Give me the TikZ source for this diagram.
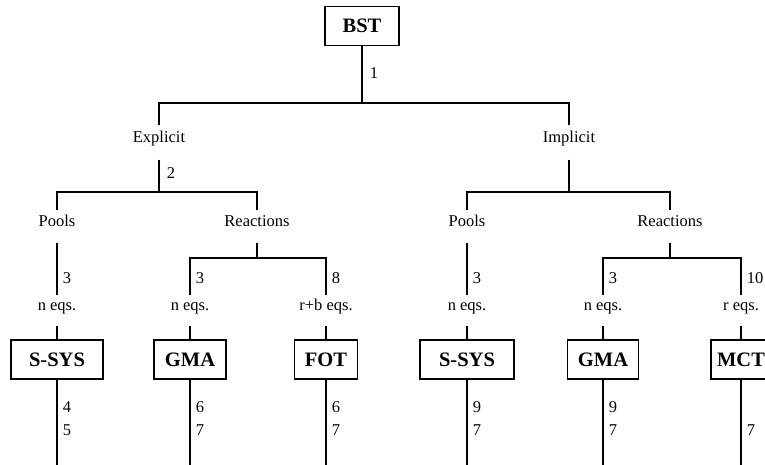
\documentclass[tikz,border=0pt]{standalone}
\usepackage{fontspec}
\setmainfont{Liberation Serif}
\begin{document}
\begin{tikzpicture}[x=1pt,y=-1pt,line width=1.5pt,
  box/.style={draw,inner sep=0pt,minimum height=39pt,font=\fontsize{20.5}{24}\selectfont\bfseries},
  lbl/.style={inner sep=0pt,anchor=base,font=\fontsize{16.5}{19}\selectfont,text height=17pt,text depth=16pt},
  plbl/.style={inner sep=0pt,anchor=base,font=\fontsize{16.5}{19}\selectfont,text height=15pt,text depth=16pt},
  eqlbl/.style={inner sep=0pt,anchor=base,font=\fontsize{16.5}{19}\selectfont,text height=14pt,text depth=15pt},
  num/.style={inner sep=0pt,anchor=west,font=\fontsize{16.5}{19}\selectfont}]
\clip (0,0) rectangle (765,465);
% top
\node[box,minimum width=74pt] (bst) at (362,26) {BST};
\coordinate (j1) at (362,103);
\node[lbl] (expl) at (159,143) {Explicit};
\node[lbl] (impl) at (569,143) {Implicit};
\draw (bst.south) -- (j1);
\draw (expl.north) |- (j1) -| (impl.north);
\node[num] at (369,73) {1};
% explicit
\coordinate (j2) at (159,192);
\node[plbl] (poolsA) at (57,226) {Pools};
\node[plbl] (reactA) at (257,226) {Reactions};
\draw (expl.south) -- (j2);
\draw (poolsA.north) |- (j2) -| (reactA.north);
\node[num] at (166,173) {2};
\coordinate (j3) at (257,258);
\node[eqlbl] (neqA1) at (57,310) {n eqs.};
\node[eqlbl] (neqA2) at (190,310) {n eqs.};
\node[eqlbl] (rbeq) at (326,310) {r+b eqs.};
\draw (poolsA.south) -- (neqA1.north);
\draw (reactA.south) -- (j3);
\draw (neqA2.north) |- (j3) -| (rbeq.north);
\node[num] at (62,278) {3};
\node[num] at (195,278) {3};
\node[num] at (331,278) {8};
\node[box,minimum width=92pt] (ssysA) at (57,359.5) {S-SYS};
\node[box,minimum width=72pt] (gmaA) at (190,359.5) {GMA};
\node[box,minimum width=63pt] (fot) at (326,359.5) {FOT};
\draw (neqA1.south) -- (ssysA.north);
\draw (neqA2.south) -- (gmaA.north);
\draw (rbeq.south) -- (fot.north);
\coordinate (eA1) at (57,470);
\coordinate (eA2) at (190,470);
\coordinate (eA3) at (326,470);
\draw (ssysA.south) -- (eA1);
\draw (gmaA.south) -- (eA2);
\draw (fot.south) -- (eA3);
\node[num] at (62,407) {4};
\node[num] at (62,430) {5};
\node[num] at (195,407) {6};
\node[num] at (195,430) {7};
\node[num] at (331,407) {6};
\node[num] at (331,430) {7};
% implicit
\coordinate (j4) at (569,192);
\node[plbl] (poolsB) at (467,226) {Pools};
\node[plbl] (reactB) at (670,226) {Reactions};
\draw (impl.south) -- (j4);
\draw (poolsB.north) |- (j4) -| (reactB.north);
\coordinate (j5) at (670,258);
\node[eqlbl] (neqB1) at (467,310) {n eqs.};
\node[eqlbl] (neqB2) at (603,310) {n eqs.};
\node[eqlbl] (req) at (741,310) {r eqs.};
\draw (poolsB.south) -- (neqB1.north);
\draw (reactB.south) -- (j5);
\draw (neqB2.north) |- (j5) -| (req.north);
\node[num] at (472,278) {3};
\node[num] at (608,278) {3};
\node[num] at (746,278) {10};
\node[box,minimum width=94pt] (ssysB) at (467,359.5) {S-SYS};
\node[box,minimum width=71pt] (gmaB) at (603,359.5) {GMA};
\node[box,minimum width=60pt] (mct) at (741,359.5) {MCT};
\draw (neqB1.south) -- (ssysB.north);
\draw (neqB2.south) -- (gmaB.north);
\draw (req.south) -- (mct.north);
\coordinate (eB1) at (467,470);
\coordinate (eB2) at (603,470);
\coordinate (eB3) at (741,470);
\draw (ssysB.south) -- (eB1);
\draw (gmaB.south) -- (eB2);
\draw (mct.south) -- (eB3);
\node[num] at (472,407) {9};
\node[num] at (472,430) {7};
\node[num] at (608,407) {9};
\node[num] at (608,430) {7};
\node[num] at (746,430) {7};
\end{tikzpicture}
\end{document}
